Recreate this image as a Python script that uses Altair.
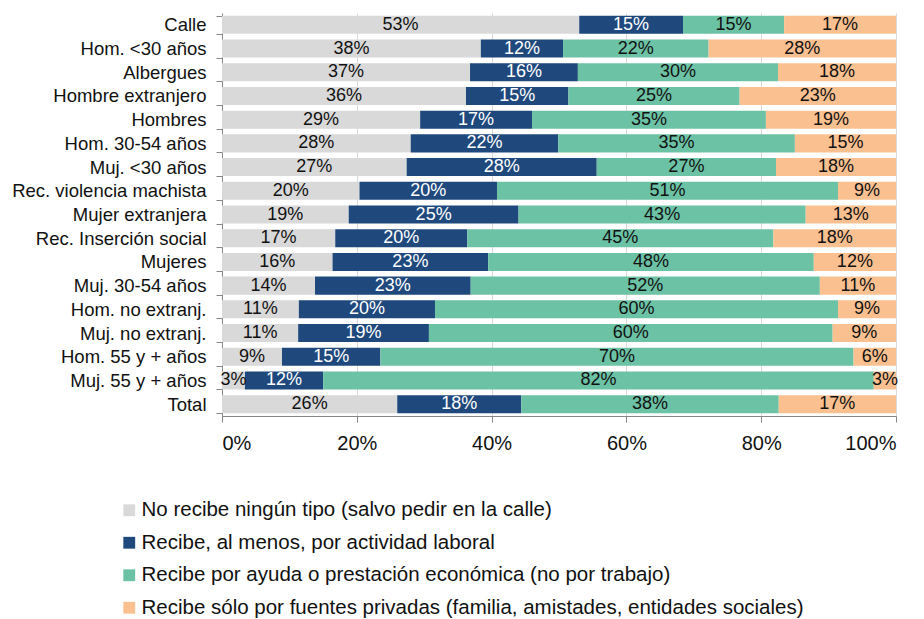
import altair as alt
import pandas as pd

categories = ["Calle", "Hom. <30 años", "Albergues", "Hombre extranjero", "Hombres",
              "Hom. 30-54 años", "Muj. <30 años", "Rec. violencia machista",
              "Mujer extranjera", "Rec. Inserción social", "Mujeres", "Muj. 30-54 años",
              "Hom. no extranj.", "Muj. no extranj.", "Hom. 55 y + años",
              "Muj. 55 y + años", "Total"]

series = ["No recibe ningún tipo (salvo pedir en la calle)",
          "Recibe, al menos, por actividad laboral",
          "Recibe por ayuda o prestación económica (no por trabajo)",
          "Recibe sólo por fuentes privadas (familia, amistades, entidades sociales)"]

no_recibe = [53.0, 38.4, 36.8, 36.2, 29.4, 28.0, 27.4, 20.4, 18.8, 16.8, 16.4, 13.8, 11.4, 11.3, 8.9, 3.4, 26.0]
laboral = [15.4, 12.2, 16.0, 15.2, 16.6, 21.9, 28.2, 20.4, 25.2, 19.6, 23.1, 23.1, 20.2, 19.4, 14.6, 11.6, 18.4]
ayuda = [15.0, 21.6, 29.7, 25.4, 34.7, 35.1, 26.6, 50.6, 42.6, 45.4, 48.3, 51.8, 59.8, 59.9, 70.2, 81.7, 38.2]
privadas = [16.6, 27.8, 17.5, 23.2, 19.3, 15.0, 17.8, 8.6, 13.4, 18.2, 12.2, 11.3, 8.6, 9.4, 6.3, 3.3, 17.4]

colors = ["#D9D9D9", "#1F497D", "#6CC2A5", "#FAC090"]

rows = []
for i, c in enumerate(categories):
    for j, vals in enumerate([no_recibe, laboral, ayuda, privadas]):
        v = vals[i]
        rows.append({"cat": c, "serie": series[j], "order": j, "v": v,
                     "label": f"{int(v + 0.5)}%"})
df = pd.DataFrame(rows)

FONT = "Liberation Sans"

base = alt.Chart(df).transform_stack(
    stack="v", groupby=["cat"], as_=["x0", "x1"], offset="normalize",
    sort=[alt.SortField("order", order="ascending")]
).transform_calculate(mid="(datum.x0 + datum.x1) / 2")

y_enc = alt.Y("cat:N", sort=categories, title=None,
              scale=alt.Scale(paddingInner=0.24, paddingOuter=0.12),
              axis=alt.Axis(tickBand="extent", tickSize=6, tickColor="#868686",
                            domainColor="#868686", labelFontSize=18.5, labelColor="#111111",
                            labelFont=FONT, labelPadding=10, labelLimit=400))

bars = base.mark_bar().encode(
    x=alt.X("x0:Q", scale=alt.Scale(domain=[0, 1], nice=False), title=None,
            axis=alt.Axis(format=".0%", values=[0, 0.2, 0.4, 0.6, 0.8, 1.0],
                          grid=True, gridColor="#D9D9D9", tickSize=6, tickColor="#868686",
                          domainColor="#868686", labelFontSize=20, labelColor="#111111",
                          labelFont=FONT, labelPadding=11)),
    x2="x1:Q",
    y=y_enc,
    color=alt.Color("serie:N", scale=alt.Scale(domain=series, range=colors),
                    legend=alt.Legend(title=None, orient="none", legendX=-103, legendY=487,
                                      direction="vertical", symbolType="square",
                                      symbolSize=140, symbolStrokeWidth=0,
                                      labelFontSize=20.5, labelFont=FONT, labelColor="#111111",
                                      labelLimit=900, rowPadding=11.5, labelOffset=2)),
)

texts = base.mark_text(fontSize=18, font=FONT).encode(
    x=alt.X("mid:Q"),
    y=alt.Y("cat:N", sort=categories),
    text="label:N",
    color=alt.condition(alt.datum.order == 1, alt.value("white"), alt.value("#111111")),
)

chart = alt.layer(bars, texts).properties(
    width=674, height=403,
    autosize=alt.AutoSizeParams(type="none"),
    padding={"left": 214, "top": 5, "right": 10, "bottom": 215},
).configure_view(stroke=None)

chart.save("out.html", embed_options={"renderer": "svg", "actions": False})
